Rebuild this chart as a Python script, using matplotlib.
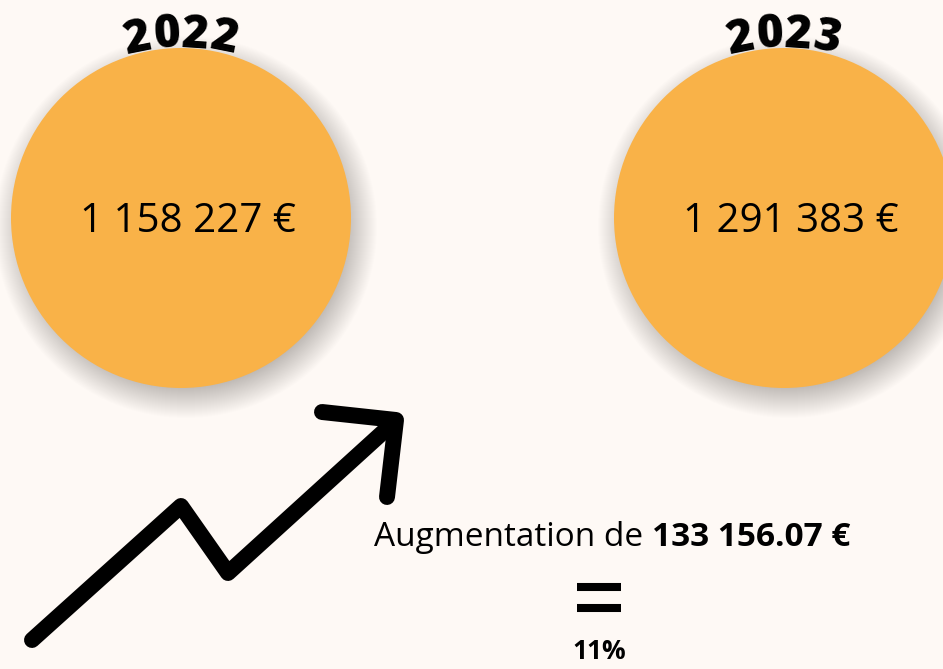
import numpy as np
import matplotlib
matplotlib.use("Agg")
import matplotlib.pyplot as plt
from matplotlib.patches import Circle

# data
years = ["2022", "2023"]
amounts = [1158227, 1291383]
increase = 133156.07
pct = 11

BG = "#fef9f5"
ORANGE = "#f9b248"
plt.rcParams["font.family"] = ["Open Sans", "DejaVu Sans"]


def fr(n):
    return f"{n:,}".replace(",", " ")


fig = plt.figure(figsize=(9.43, 6.69), dpi=100, facecolor=BG)
ax = fig.add_axes([0, 0, 1, 1])
ax.set_xlim(0, 943)
ax.set_ylim(669, 0)
ax.set_aspect("equal")
ax.axis("off")
ax.set_facecolor(BG)

centers = [(181, 218), (784, 218)]
r = 170

for (cx, cy), yr, amt in zip(centers, years, amounts):
    # soft shadow
    for k in range(32):
        ax.add_patch(Circle((cx + 5, cy + 9), r - 10 + k * 1.0, color="#000000",
                            alpha=0.009, lw=0, zorder=1))
    ax.add_patch(Circle((cx, cy), r, color=ORANGE, lw=0, zorder=2))
    ax.text(cx + 7, cy + 4, fr(amt) + " €", ha="center", va="center",
            fontsize=29, color="black", zorder=3)

    # year along an arc
    R = 220
    step = 29 / R
    for i, ch in enumerate(yr):
        th = (i - (len(yr) - 1) / 2) * step
        x = cx + R * np.sin(th)
        y = 35 + R - R * np.cos(th)
        ax.text(x, y, ch, ha="center", va="center", rotation=-np.degrees(th),
                rotation_mode="anchor", fontsize=33, fontweight="heavy",
                color="black", zorder=4)

# arrow
ax.plot([32, 181, 228, 392], [640, 506, 573, 424], color="black", lw=11.5,
        solid_capstyle="round", solid_joinstyle="round", zorder=5)
ax.plot([322, 396, 387], [412, 420, 497], color="black", lw=11.5,
        solid_capstyle="round", solid_joinstyle="round", zorder=5)

# texts
t1 = ax.text(374, 538, "Augmentation de ", ha="left", va="center",
             fontsize=24, color="black")
fig.canvas.draw()
bb = t1.get_window_extent()
x_end = ax.transData.inverted().transform((bb.x1, bb.y0))[0]
ax.text(x_end, 538, f"{increase:,.2f}".replace(",", " ") + " €", ha="left",
        va="center", fontsize=24, fontweight="bold", color="black")

ax.plot([577, 621], [587, 587], color="black", lw=5.8, solid_capstyle="butt")
ax.plot([577, 621], [608, 608], color="black", lw=5.8, solid_capstyle="butt")

ax.text(599, 638, f"{pct}%", ha="center", va="top", fontsize=19,
        fontweight="bold", color="black")

fig.savefig("out.png", dpi=100, facecolor=BG)
